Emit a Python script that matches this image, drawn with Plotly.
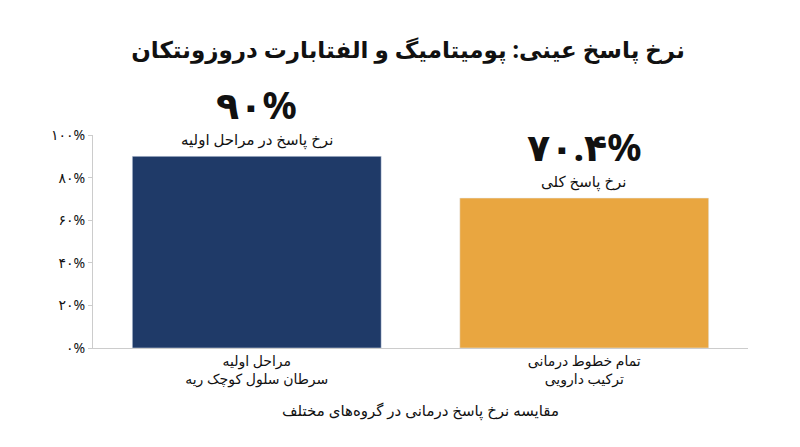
import plotly.graph_objects as go

categories = ["مراحل اولیه<br>سرطان سلول کوچک ریه", "تمام خطوط درمانی<br>ترکیب دارویی"]
values = [90, 70.4]
big_labels = ["۹۰%", "۷۰.۴%"]
sub_labels = ["نرخ پاسخ در مراحل اولیه", "نرخ پاسخ کلی"]
colors = ["#1f3a68", "#e9a640"]
tick_vals = [0, 20, 40, 60, 80, 100]
tick_text = ["۰%", "۲۰%", "۴۰%", "۶۰%", "۸۰%", "۱۰۰%"]

font = "Noto Sans, DejaVu Sans"
fig = go.Figure(go.Bar(x=categories, y=values, marker_color=colors, width=0.76))
for c, v, b, s in zip(categories, values, big_labels, sub_labels):
    fig.add_annotation(x=c, y=v, text=s, showarrow=False, yanchor="bottom", yshift=4,
                       font=dict(size=15, color="#111"))
    fig.add_annotation(x=c, y=v, text="<b>" + b + "</b>", showarrow=False, yanchor="bottom", yshift=24,
                       font=dict(size=38, color="#111"))
fig.update_layout(
    width=800, height=447, plot_bgcolor="white", paper_bgcolor="white",
    margin=dict(l=85, r=60, t=127, b=107, autoexpand=False),
    font=dict(family=font, color="#111"),
    title=dict(text="<b>نرخ پاسخ عینی: پومیتامیگ و الفتابارت دروزونتکان</b>", x=0.5, y=0.925,
               xanchor="center", font=dict(size=23)),
    showlegend=False,
)
fig.update_yaxes(range=[0, 100], tickvals=tick_vals, ticktext=tick_text, showgrid=False,
                 showline=True, linecolor="#ccc", ticks="outside", ticklen=4, tickcolor="#ccc",
                 tickfont=dict(size=14), automargin=False)
fig.update_xaxes(showline=True, linecolor="#ccc", tickfont=dict(size=14), automargin=False,
                 title=dict(text="مقایسه نرخ پاسخ درمانی در گروه‌های مختلف", font=dict(size=15), standoff=18))
fig.write_html("out.html")
